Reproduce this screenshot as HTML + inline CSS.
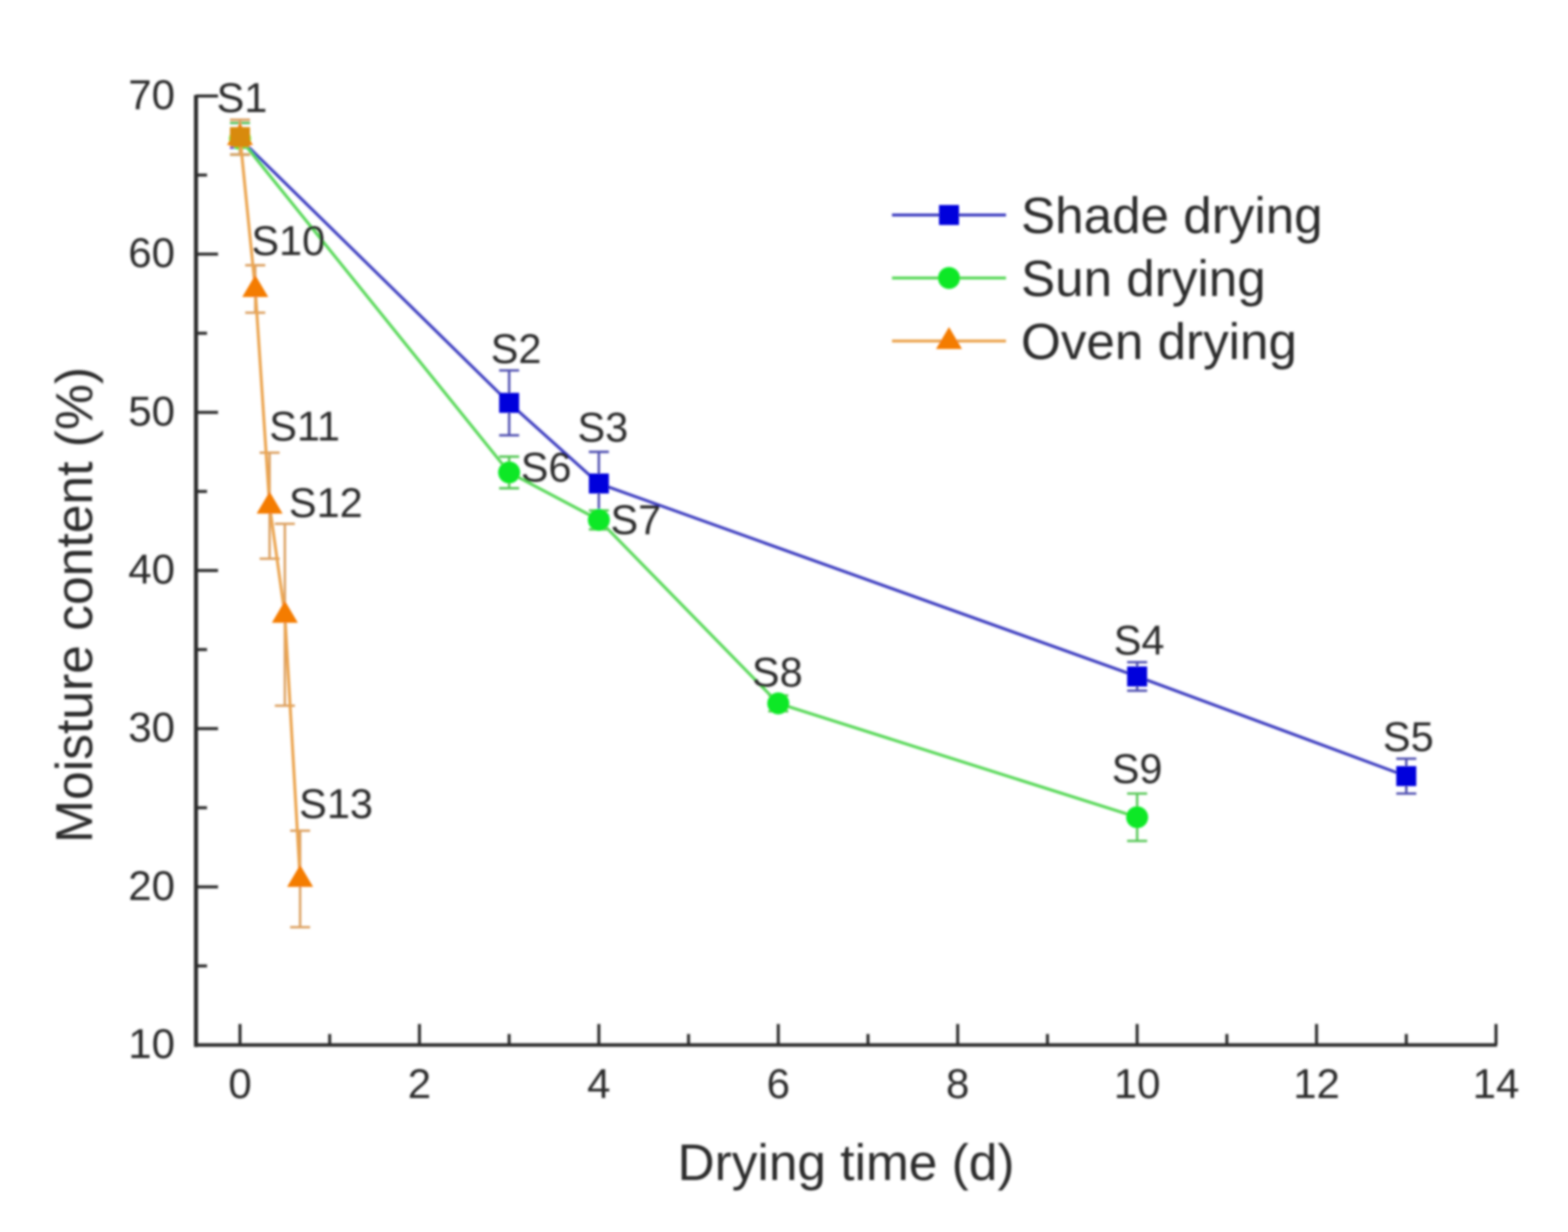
<!DOCTYPE html>
<html>
<head>
<meta charset="utf-8">
<title>Moisture content vs drying time</title>
<style>
html,body{margin:0;padding:0;background:#fff}
svg{display:block}
text{font-family:"Liberation Sans",sans-serif;fill:#2c2c2c}
</style>
</head>
<body>
<svg id="chart" xmlns="http://www.w3.org/2000/svg" width="1568" height="1232" viewBox="0 0 1568 1232">
<defs><filter id="soft" x="-5%" y="-5%" width="110%" height="110%"><feGaussianBlur stdDeviation="1.1"/></filter></defs>
<g id="root" filter="url(#soft)"></g>
</svg>
<script>
const xTicks = [0, 1, 2, 3, 4, 5, 6, 7, 8, 9, 10, 11, 12, 13, 14];
const xTickLabels = ["0", "", "2", "", "4", "", "6", "", "8", "", "10", "", "12", "", "14"];
const yTicks = [10, 15, 20, 25, 30, 35, 40, 45, 50, 55, 60, 65, 70];
const yTickLabels = ["10", "", "20", "", "30", "", "40", "", "50", "", "60", "", "70"];

const shadeX = [0, 3, 4, 10, 13];
const shadeY = [67.3, 50.6, 45.5, 33.3, 27.0];
const shadeErr = [1.0, 2.05, 2.0, 0.9, 1.1];
const shadeLabels = ["", "S2", "S3", "S4", "S5"];

const sunX = [0, 3, 4, 6, 10];
const sunY = [67.3, 46.2, 43.2, 31.6, 24.4];
const sunErr = [1.0, 1.0, 0.6, 0.5, 1.5];
const sunLabels = ["", "S6", "S7", "S8", "S9"];

const ovenX = [0, 0.17, 0.33, 0.5, 0.67];
const ovenY = [67.4, 57.8, 44.1, 37.2, 20.5];
const ovenErr = [1.1, 1.5, 3.35, 5.75, 3.05];
const ovenLabels = ["S1", "S10", "S11", "S12", "S13"];

const legendNames = ["Shade drying", "Sun drying", "Oven drying"];

const NS = "http://www.w3.org/2000/svg";
const root = document.getElementById("root");
function sx(v) { return 240 + v * (1496 - 240) / 14; }
function sy(v) { return 1045 - (v - 10) * (1045 - 96) / 60; }
function mk(tag, attrs, parent) {
  const el = document.createElementNS(NS, tag);
  for (const k in attrs) el.setAttribute(k, attrs[k]);
  (parent || root).appendChild(el);
  return el;
}
function txt(str, x, y, size, anchor, parent) {
  const el = mk("text", { x: x, y: y, "font-size": size, "text-anchor": anchor }, parent);
  el.textContent = str;
  return el;
}
const AXIS = "#2a2a2a";

const axes = mk("g", {});



const yLine = mk("line", { x1: 196, y1: 95, x2: 196, y2: 1047, stroke: AXIS, "stroke-width": 4 }, axes);


const xLine = mk("line", { x1: 194, y1: 1045, x2: 1497, y2: 1045, stroke: AXIS, "stroke-width": 3.5 }, axes);



xTicks.forEach(function (t, i) {
  const major = xTickLabels[i] !== "";
  const tick = mk("line", { x1: sx(t), y1: 1045, x2: sx(t), y2: major ? 1024 : 1034, stroke: AXIS, "stroke-width": 3 }, axes);
  
  
  if (major) {
    const lab = txt(xTickLabels[i], sx(t), 1098, 42, "middle", axes);
    
    
  }
});
yTicks.forEach(function (t, i) {
  const major = yTickLabels[i] !== "";
  const tick = mk("line", { x1: 196, y1: sy(t), x2: major ? 218 : 207, y2: sy(t), stroke: AXIS, "stroke-width": 3 }, axes);
  
  
  if (major) {
    const lab = txt(yTickLabels[i], 175, sy(t) + 13, 42, "end", axes);
    
    
  }
});

const xTitle = txt("Drying time (d)", 846, 1180, 51.4, "middle", axes);


const yTitle = txt("Moisture content (%)", 0, 0, 51.6, "middle", axes);
yTitle.setAttribute('transform', 'translate(92 605) rotate(-90)');



function marker(kind, cx, cy, color, parent) {
  if (kind === "square") return mk("rect", { x: cx - 10, y: cy - 10, width: 20, height: 20, fill: color }, parent);
  if (kind === "circle") return mk("circle", { cx: cx, cy: cy, r: 11, fill: color }, parent);
  return mk("path", { d: "M" + cx + " " + (cy - 14) + "L" + (cx + 13) + " " + (cy + 8) + "L" + (cx - 13) + " " + (cy + 8) + "Z", fill: color }, parent);
}

function drawSeries(name, xs, ys, errs, lineColor, errColor, markColor, kind) {
  const g = mk("g", {});
  
  
  xs.forEach(function (x, i) {
    const px = sx(x), top = sy(ys[i] + errs[i]), bot = sy(ys[i] - errs[i]);
    const err = mk("path", { d: "M" + px + " " + top + "V" + bot + "M" + (px - 10) + " " + top + "H" + (px + 10) + "M" + (px - 10) + " " + bot + "H" + (px + 10), stroke: errColor, "stroke-width": 2.4, fill: "none" }, g);
    
    
  });
  const pts = xs.map(function (x, i) { return sx(x) + "," + sy(ys[i]); }).join(" ");
  const line = mk("polyline", { points: pts, fill: "none", stroke: lineColor, "stroke-width": 3 }, g);
  
  
  xs.forEach(function (x, i) {
    const m = marker(kind, sx(x), sy(ys[i]), markColor, g);
    
    
  });
}
drawSeries("shade-drying", shadeX, shadeY, shadeErr, "#3c3cc0", "#5050b0", "#0000dc", "square");
drawSeries("sun-drying", sunX, sunY, sunErr, "#58d858", "#58c858", "#0ce828", "circle");
drawSeries("oven-drying", ovenX, ovenY, ovenErr, "#eba450", "#dca060", "#f47c00", "triangle");

const s1Mark = marker("square", sx(ovenX[0]), sy(ovenY[0]), "#d88a08");



function pointLabels(labels, xs, ys, offsets) {
  labels.forEach(function (l, i) {
    if (!l) return;
    const o = offsets[l];
    const t = txt(l, sx(xs[i]) + o[0], sy(ys[i]) + o[1], 41.5, "middle");
    
    
  });
}
pointLabels(shadeLabels, shadeX, shadeY, { S2: [7, -40], S3: [4, -42], S4: [2, -22], S5: [2, -25] });
pointLabels(sunLabels, sunX, sunY, { S6: [37, 9], S7: [37, 14], S8: [-1, -17], S9: [0, -34] });
pointLabels(ovenLabels, ovenX, ovenY, { S1: [2, -25], S10: [33, -34], S11: [35, -65], S12: [41, -98], S13: [36, -61] });

const legend = mk("g", {});


const legendStyle = [
  ["#3c3cc0", "#0000dc", "square"],
  ["#58d858", "#0ce828", "circle"],
  ["#eba450", "#f47c00", "triangle"]
];
legendNames.forEach(function (n, i) {
  const y = 215 + i * 63;
  const e = mk("g", {}, legend);
  
  
  const sw = mk("line", { x1: 892, y1: y, x2: 1006, y2: y, stroke: legendStyle[i][0], "stroke-width": 3 }, e);
  
  
  const m = marker(legendStyle[i][2], 949, y, legendStyle[i][1], e);
  
  
  const t = txt(n, 1021, y + 18, 51.2, "start", e);
  
  
});
</script>
</body>
</html>
